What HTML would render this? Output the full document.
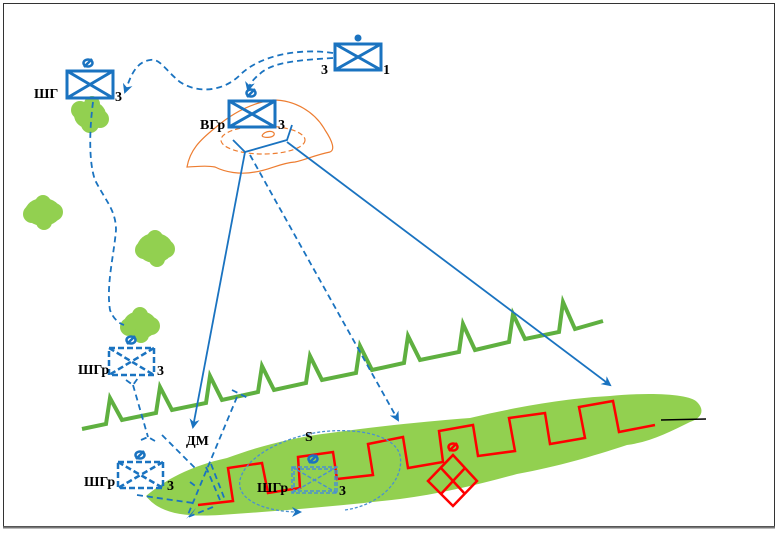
<!DOCTYPE html>
<html><head><meta charset="utf-8"><style>
html,body{margin:0;padding:0;background:#fff}
svg{display:block}
text{font-family:"Liberation Serif",serif;font-weight:bold;fill:#000}
</style></head><body>
<svg width="778" height="533" viewBox="0 0 778 533" xmlns="http://www.w3.org/2000/svg">
<defs>
<marker id="ar" markerWidth="10" markerHeight="10" refX="8" refY="5" orient="auto" markerUnits="userSpaceOnUse">
<path d="M0,0 L10,5 L0,10 L3,5 z" fill="#1a73c0"/></marker>
</defs>
<rect x="3.5" y="3.5" width="771" height="523" fill="none" stroke="#333" stroke-width="1"/>
<line x1="3" y1="527.5" x2="775" y2="527.5" stroke="#777" stroke-width="2"/>

<!-- bushes -->
<g fill="#92d050">
<ellipse cx="90" cy="115" rx="16" ry="14"/><circle cx="80" cy="110" r="9"/><circle cx="100" cy="119" r="9"/><circle cx="90" cy="124" r="9"/><circle cx="92" cy="104" r="8"/>
<ellipse cx="43" cy="212" rx="18" ry="14"/><circle cx="32" cy="214" r="9"/><circle cx="54" cy="212" r="9"/><circle cx="43" cy="203" r="8"/><circle cx="44" cy="222" r="8"/>
<ellipse cx="155" cy="248" rx="18" ry="15"/><circle cx="144" cy="250" r="9"/><circle cx="166" cy="249" r="9"/><circle cx="155" cy="238" r="8"/><circle cx="157" cy="259" r="8"/>
<ellipse cx="140" cy="325" rx="17" ry="14"/><circle cx="129" cy="327" r="9"/><circle cx="151" cy="326" r="9"/><circle cx="140" cy="315" r="8"/><circle cx="141" cy="335" r="8"/>
</g>

<!-- green field -->
<path d="M146,496 C165,480 190,466 227,458 C260,446 290,438 330,433 C380,426 430,421 470,418 C520,406 570,398 610,396 C650,392 690,394 697,402 C705,410 702,418 690,422 C670,432 650,442 627,445 C590,457 560,466 517,474 C480,484 440,494 400,499 C340,506 280,511 220,515 C185,517 160,514 146,496 Z" fill="#92d050"/>

<!-- green zigzag -->
<path d="M82,429 L106,424 L110,398 L122,420 L156,413 L160,387 L172,410 L206,403 L210,376 L222,400 L258,392 L262,366 L274,390 L306,383 L310,356 L322,380 L356,373 L360,346 L372,370 L404,363 L408,336 L420,360 L459,352 L463,324 L475,350 L509,342 L513,314 L525,339 L559,332 L563,302 L575,329 L603,321" fill="none" stroke="#5fb040" stroke-width="4" stroke-linejoin="miter"/>

<!-- orange hill -->
<path d="M187,167 C190,150 200,140 215,128 C230,115 250,103 273,100 C295,100 315,112 325,130 C333,142 335,150 330,152 C315,155 305,160 295,162 C280,163 270,170 255,172 C240,175 225,172 215,167 C205,165 195,167 187,167 Z" fill="none" stroke="#ed7d31" stroke-width="1.2"/>
<ellipse cx="263" cy="140" rx="42" ry="14" fill="none" stroke="#ed7d31" stroke-width="1.2" stroke-dasharray="5,3"/>
<path d="M262,136 C264,130 276,130 274,135 C272,138 264,138 262,136" fill="none" stroke="#ed7d31" stroke-width="1.2"/>

<!-- red zigzag -->
<path d="M198,505 L233,501 L228,468 L262,463 L268,493 L300,488 L298,457 L333,452 L337,479 L373,475 L368,444 L403,437 L408,468 L443,462 L439,431 L473,425 L478,456 L515,451 L509,418 L545,413 L550,444 L585,438 L579,407 L613,401 L619,432 L655,425" fill="none" stroke="#ff0000" stroke-width="2.5"/>
<line x1="661" y1="420" x2="706" y2="419" stroke="#000" stroke-width="1.5"/>
<g stroke="#ff0000" stroke-width="2.5" fill="none">
<path d="M453,455 L477,481 L453,506 L428,481 Z"/>
<line x1="441" y1="468" x2="465" y2="494"/>
<line x1="465" y1="468" x2="441" y2="494"/>
<ellipse cx="453" cy="447" rx="4.5" ry="3.5"/>
<line x1="449" y1="451" x2="457" y2="443"/>
</g>

<!-- blue boxes -->
<g stroke="#1a73c0" stroke-width="3" fill="none">
<rect x="67" y="71" width="46" height="27"/><path d="M67,71 L113,98 M113,71 L67,98"/>
<rect x="335" y="44" width="46" height="26"/><path d="M335,44 L381,70 M381,44 L335,70"/>
<rect x="229" y="101" width="46" height="26"/><path d="M229,101 L275,127 M275,101 L229,127"/>
</g>
<circle cx="358" cy="38" r="3.5" fill="#1a73c0"/>
<g stroke="#1a73c0" stroke-width="2.5" fill="none">
<ellipse cx="88" cy="63" rx="4.5" ry="3.5"/><line x1="84" y1="67" x2="92" y2="59"/>
<ellipse cx="251" cy="93" rx="4.5" ry="3.5"/><line x1="247" y1="97" x2="255" y2="89"/>
<ellipse cx="131" cy="340" rx="4.5" ry="3.5"/><line x1="127" y1="344" x2="135" y2="336"/>
<ellipse cx="140" cy="455" rx="4.5" ry="3.5"/><line x1="136" y1="459" x2="144" y2="451"/>
<ellipse cx="313" cy="459" rx="4.5" ry="3.5"/><line x1="309" y1="463" x2="317" y2="455"/>
</g>
<g stroke="#1a73c0" stroke-width="2.5" fill="none" stroke-dasharray="6,3">
<rect x="109" y="348" width="45" height="27"/><path d="M109,348 L154,375 M154,348 L109,375"/>
<rect x="118" y="462" width="45" height="26"/><path d="M118,462 L163,488 M163,462 L118,488"/>
</g>
<g stroke="#4a90d0" stroke-width="1.5" fill="none" stroke-dasharray="4,2">
<rect x="292" y="467" width="45" height="26"/><rect x="294" y="469" width="41" height="22"/><path d="M292,467 L337,493 M337,467 L292,493"/>
</g>

<g stroke="#1a73c0" stroke-width="1.8" fill="none" stroke-dasharray="6,4">
<path d="M333,53 C300,48 260,55 240,75 C225,90 200,95 180,82 C165,70 160,58 150,60 C135,62 130,78 125,92" marker-end="url(#ar)"/>
<path d="M333,58 C300,60 275,62 262,72 C255,78 250,82 248,90" marker-end="url(#ar)"/>
<path d="M93,102 C90,125 88,160 95,180 C105,200 116,210 116,230 C114,255 106,285 110,310 C113,318 118,323 124,325"/>
<path d="M133,385 L148,437"/>
<path d="M126,380 L133,385 L138,378"/>
<path d="M141,440 L148,437 L155,441"/>
<path d="M162,435 L197,470"/>
<path d="M190,482 L198,488"/>
<path d="M237,397 L187,517"/>
<path d="M232,390 L248,398"/>
<path d="M206,467 L220,500 M211,464 L225,500"/>
<path d="M137,495 L193,503"/>
<path d="M213,507 L188,517"/>
<path d="M250,155 L398,420" marker-end="url(#ar)"/>
</g>
<g stroke="#4a90d0" stroke-width="1.3" fill="none" stroke-dasharray="3,2">
<path d="M345,510 C380,505 405,480 400,455 C393,432 350,428 320,432 C280,438 245,458 240,480 C236,500 265,512 300,512" marker-end="url(#ar)"/>
</g>
<g stroke="#1a73c0" stroke-width="1.8" fill="none">
<path d="M233,140 L245,152 L287,140 L292,125"/>
<path d="M245,152 L193,427" marker-end="url(#ar)"/>
<path d="M287,142 L610,385" marker-end="url(#ar)"/>
</g>
<path d="M186,519 L196,508 L192,514 Z" fill="#1a73c0"/>

<g font-size="14">
<text x="34" y="98">ШГ</text>
<text x="115" y="101">3</text>
<text x="321" y="74">3</text>
<text x="383" y="74">1</text>
<text x="200" y="129">ВГр</text>
<text x="278" y="129">3</text>
<text x="78" y="374">ШГр</text>
<text x="157" y="375">3</text>
<text x="84" y="486">ШГр</text>
<text x="167" y="490">3</text>
<text x="186" y="445">ДМ</text>
<text x="305" y="441">S</text>
<text x="257" y="492">ШГр</text>
<text x="339" y="495">3</text>
</g>
</svg>
</body></html>
